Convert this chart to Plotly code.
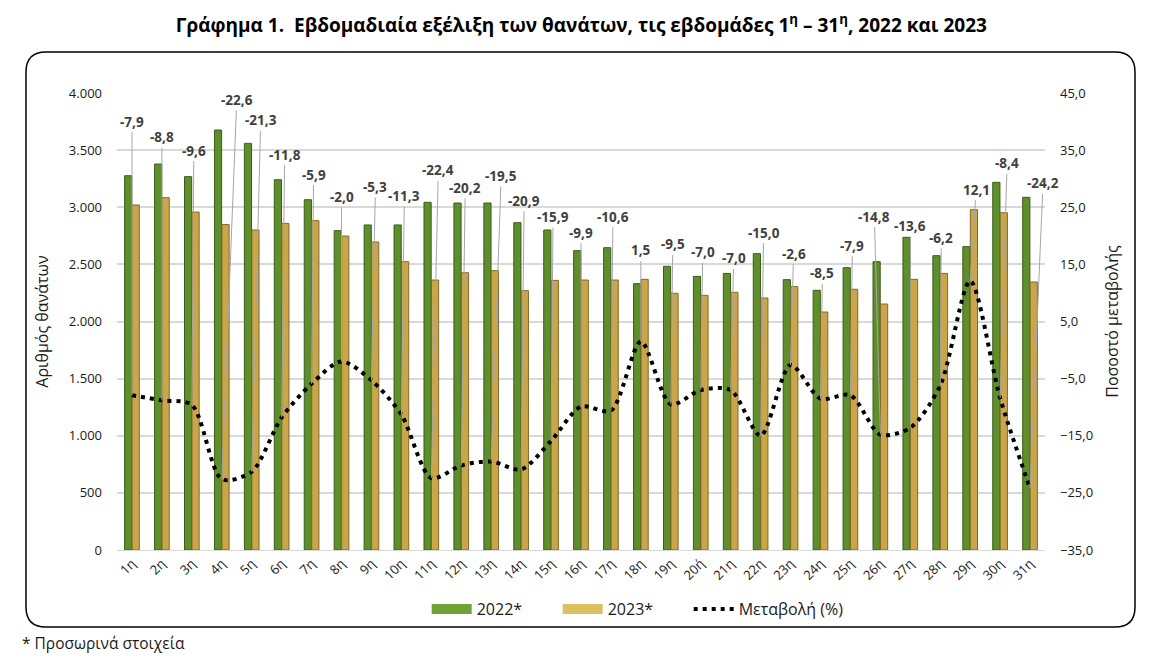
import plotly.graph_objects as go

weeks = [f"{i}η" for i in range(1, 32)]
weeks[19] = "20ή"
deaths_2022 = [3276, 3378, 3268, 3676, 3559, 3241, 3066, 2795, 2845, 2845, 3043,
               3037, 3037, 2865, 2801, 2620, 2646, 2331, 2483, 2395, 2421, 2594,
               2366, 2273, 2471, 2524, 2737, 2576, 2655, 3218, 3087]
deaths_2023 = [3020, 3084, 2958, 2848, 2801, 2859, 2883, 2748, 2696, 2524, 2363,
               2427, 2445, 2270, 2360, 2363, 2363, 2369, 2247, 2229, 2255, 2206,
               2305, 2083, 2282, 2153, 2369, 2421, 2979, 2952, 2346]
change_pct = [-7.9, -8.8, -9.6, -22.6, -21.3, -11.8, -5.9, -2.0, -5.3, -11.3, -22.4,
              -20.2, -19.5, -20.9, -15.9, -9.9, -10.6, 1.5, -9.5, -7.0, -7.0, -15.0,
              -2.6, -8.5, -7.9, -14.8, -13.6, -6.2, 12.1, -8.4, -24.2]

# label placement (style): pixels above the taller bar, and horizontal pixel shift
label_lift = [54, 27, 26, 30, 23, 25, 25, 34, 38, 29, 32, 15, 27, 22, 13, 18, 31, 29,
              22, 24, 15, 21, 26, 17, 22, 45, 11, 18, 20, 19, 14]
label_dx = [0, 0, 2, 15, 9, 3, 2, 0, 4, 3, 7, 4, 10, 3, 2, 0, 2, 0,
            2, 2, 3, 3, 3, 2, 2, -6, 0, 1, 6, 7, 13]

W, H = 1149, 665
L, R, T, B = 117, 104, 93, 115
FONT = "Open Sans"
TXT = "#1a1a1a"
GREEN, GREEN_D = "#5e8f2c", "#3b5c1a"
YELLOW, YELLOW_D = "#c9a64a", "#84692a"

fig = go.Figure()
fig.add_trace(go.Bar(x=weeks, y=deaths_2022, name="2022*", showlegend=False,
                     marker=dict(color=GREEN, line=dict(color=GREEN_D, width=1))))
fig.add_trace(go.Bar(x=weeks, y=deaths_2023, name="2023*", showlegend=False,
                     marker=dict(color=YELLOW, line=dict(color=YELLOW_D, width=1))))
fig.add_trace(go.Scatter(x=weeks, y=change_pct, name="Μεταβολή (%)", yaxis="y2",
                         mode="lines", showlegend=False,
                         line=dict(color="black", width=4, dash="4px,5px",
                                   shape="spline", smoothing=0.8)))
# legend entries (wide swatches like the original)
for name, col, w, dash, lw in [("2022*", "#6fa336", 10, "solid", 76),
                               ("2023*", "#dcc060", 10, "solid", 76),
                               ("Μεταβολή (%)", "black", 4, "4px,5px", None)]:
    fig.add_trace(go.Scatter(x=[weeks[0]], y=[None], name=name, mode="lines",
                             legendwidth=lw,
                             line=dict(color=col, width=w, dash=dash)))

y1max, y2min, y2max = 4000, -35, 45
plot_h = H - T - B
annotations = []
for wk, a, b, p, lift, dx in zip(weeks, deaths_2022, deaths_2023, change_pct, label_lift, label_dx):
    top = max(a, b) + lift * y1max / plot_h
    ay = y2min + top * (y2max - y2min) / y1max
    annotations.append(dict(x=wk, y=p, xref="x", yref="y2", axref="pixel", ayref="y2",
                            ax=dx, ay=ay, showarrow=True, arrowhead=0, arrowwidth=1,
                            arrowcolor="#a6a6a6", standoff=0,
                            text=f"{p:.1f}".replace(".", ","),
                            font=dict(family=FONT, size=13.5, color="#404040", weight="bold")))

annotations.append(dict(text="* Προσωρινά στοιχεία", xref="paper", yref="paper",
                        x=(20 - L) / (W - L - R), y=(H - B - 643) / plot_h,
                        xanchor="left", yanchor="middle", showarrow=False,
                        font=dict(family=FONT, size=15.5, color=TXT)))

def px(x):
    return (x - L) / (W - L - R)
def py(y):
    return (H - B - y) / plot_h
x0, x1, yt, yb, r = 26, 1135, 52, 627, 20
path = (f"M {px(x0 + r)},{py(yt)} L {px(x1 - r)},{py(yt)} Q {px(x1)},{py(yt)} {px(x1)},{py(yt + r)} "
        f"L {px(x1)},{py(yb - r)} Q {px(x1)},{py(yb)} {px(x1 - r)},{py(yb)} "
        f"L {px(x0 + r)},{py(yb)} Q {px(x0)},{py(yb)} {px(x0)},{py(yb - r)} "
        f"L {px(x0)},{py(yt + r)} Q {px(x0)},{py(yt)} {px(x0 + r)},{py(yt)} Z")

fig.update_layout(
    width=W, height=H,
    margin=dict(l=L, r=R, t=T, b=B, autoexpand=False),
    paper_bgcolor="white", plot_bgcolor="white",
    separators=",.",
    font=dict(family=FONT, color=TXT),
    title=dict(text="Γράφημα 1.  Εβδομαδιαία εξέλιξη των θανάτων, τις εβδομάδες 1<sup>η</sup> – 31<sup>η</sup>, 2022 και 2023",
               x=0.506, xanchor="center", y=1 - 25 / H, yanchor="middle",
               font=dict(family=FONT, size=19, color="black", weight="bold")),
    barmode="group", bargap=0.5, bargroupgap=0.04,
    xaxis=dict(type="category", range=[-0.5, 30.5], tickangle=-45,
               tickfont=dict(size=13, color=TXT), showgrid=False,
               showline=True, linecolor="#d9d9d9", ticks="", automargin=False),
    yaxis=dict(range=[0, 4000], dtick=500, tickformat=",d", showgrid=True,
               gridcolor="#d9d9d9", gridwidth=1.5, zeroline=False, automargin=False,
               tickfont=dict(size=13, color=TXT), ticklabelstandoff=14,
               title=dict(text="Αριθμός θανάτων", font=dict(size=16, color=TXT), standoff=16)),
    yaxis2=dict(range=[-35, 45], tick0=-35, dtick=10, tickformat=".1f", overlaying="y",
                side="right", showgrid=False, zeroline=False, automargin=False,
                tickfont=dict(size=13, color=TXT), ticklabelstandoff=14,
                title=dict(text="Ποσοστό μεταβολής", font=dict(size=16, color=TXT), standoff=14)),
    legend=dict(orientation="h", xref="container", yref="container", x=0.555, y=(H - 609) / H,
                xanchor="center", yanchor="middle", font=dict(size=16, color=TXT),
                itemwidth=40, traceorder="normal"),
    annotations=annotations,
    shapes=[dict(type="path", path=path, xref="paper", yref="paper",
                 line=dict(color="black", width=1.5), layer="below")],
)

fig.write_html("out.html")
